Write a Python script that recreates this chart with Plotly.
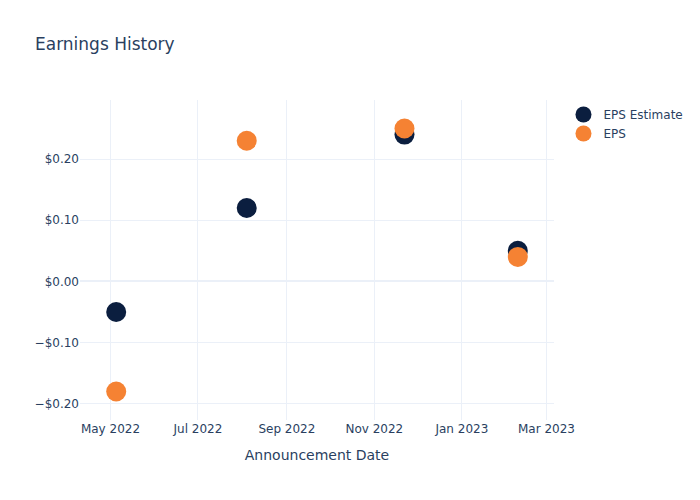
import plotly.graph_objects as go

dates = ["2022-05-05", "2022-08-04", "2022-11-22", "2023-02-09"]
eps_estimate = [-0.05, 0.12, 0.24, 0.05]
eps_actual = [-0.18, 0.23, 0.25, 0.04]

fig = go.Figure()
fig.add_trace(go.Scatter(x=dates, y=eps_estimate, mode="markers", name="EPS Estimate",
                         marker=dict(size=20, color="#0B1E3F")))
fig.add_trace(go.Scatter(x=dates, y=eps_actual, mode="markers", name="EPS",
                         marker=dict(size=20, color="#F58233")))
fig.update_layout(
    template="plotly_white",
    width=700, height=500,
    font=dict(family="DejaVu Sans"),
    title=dict(text="Earnings History"),
    xaxis=dict(title=dict(text="Announcement Date")),
    yaxis=dict(tickformat="$.2f"),
)
fig.write_html("out.html")
